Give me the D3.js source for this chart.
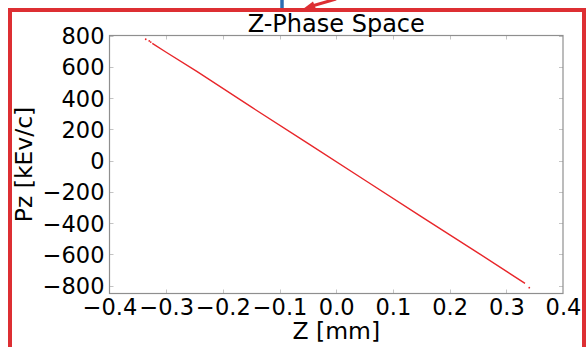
<!DOCTYPE html>
<html>
<head>
<meta charset="utf-8">
<script src="https://cdn.jsdelivr.net/npm/d3@7"></script>
<style>
  html, body { margin: 0; padding: 0; background: #fff; }
  svg { display: block; font-family: "DejaVu Sans", sans-serif; }
</style>
</head>
<body>
<svg id="chart" width="587" height="347"></svg>
<script>
// Longitudinal phase space: Z position [mm] vs Pz [keV/c]
const headZ  = [-0.3361, -0.3298, -0.3273];
const headPz = [776, 765, 758];

const bodyZ  = [-0.3245, -0.300, -0.246, -0.150, -0.050, 0.050, 0.150, 0.250, 0.333];
const bodyPz = [750, 693, 570, 343, 110, -124, -358, -590, -785];

const tailZ  = [0.3405];
const tailPz = [-813];

const xTicks = [-0.4, -0.3, -0.2, -0.1, 0.0, 0.1, 0.2, 0.3, 0.4];
const yTicks = [-800, -600, -400, -200, 0, 200, 400, 600, 800];
const xDomain = [-0.4, 0.4];
const yDomain = [-850, 800];

const svg = d3.select("#chart");
const plot = { left: 109.5, right: 563, top: 35.5, bottom: 293.5 };

const x = d3.scaleLinear().domain(xDomain).range([plot.left, plot.right]);
const y = d3.scaleLinear().domain(yDomain).range([plot.bottom, plot.top]);

// plot area
svg.append("rect")
  .attr("x", plot.left).attr("y", plot.top)
  .attr("width", plot.right - plot.left).attr("height", plot.bottom - plot.top)
  .attr("fill", "#fff");

// inward ticks on all four sides
const tickLen = 4;
const tickColor = "#c4c4c4";
const tg = svg.append("g").attr("stroke", tickColor).attr("stroke-width", 1);
xTicks.slice(1, -1).forEach(t => {
  const px = Math.round(x(t)) + 0.5;
  tg.append("line").attr("x1", px).attr("x2", px).attr("y1", plot.bottom).attr("y2", plot.bottom - tickLen);
  tg.append("line").attr("x1", px).attr("x2", px).attr("y1", plot.top).attr("y2", plot.top + tickLen);
});
yTicks.forEach(t => {
  const py = Math.round(y(t)) + 0.5;
  tg.append("line").attr("x1", plot.left).attr("x2", plot.left + tickLen).attr("y1", py).attr("y2", py);
  tg.append("line").attr("x1", plot.right).attr("x2", plot.right - tickLen).attr("y1", py).attr("y2", py);
});

// data
const lineColor = "#e8262a";
const body = bodyZ.map((z, i) => [z, bodyPz[i]]);
svg.append("path")
  .datum(body)
  .attr("fill", "none")
  .attr("stroke", lineColor)
  .attr("stroke-width", 1.4)
  .attr("d", d3.line().x(d => x(d[0])).y(d => y(d[1])));

const dots = headZ.map((z, i) => [z, headPz[i]]).concat(tailZ.map((z, i) => [z, tailPz[i]]));
svg.append("g").selectAll("circle").data(dots).enter().append("circle")
  .attr("cx", d => x(d[0])).attr("cy", d => y(d[1]))
  .attr("r", 0.9).attr("fill", lineColor);

// frame
svg.append("rect")
  .attr("x", plot.left).attr("y", plot.top)
  .attr("width", plot.right - plot.left).attr("height", plot.bottom - plot.top)
  .attr("fill", "none").attr("stroke", "#8f8f8f").attr("stroke-width", 1.2);

// axes labels via d3 axes (tick lines hidden, text only)
const fmtX = d => (d < 0 ? "\u2212" : "") + Math.abs(d).toFixed(1);
const fmtY = d => (d < 0 ? "\u2212" : "") + Math.abs(d);

const xAxis = svg.append("g")
  .attr("transform", `translate(0,${plot.bottom})`)
  .call(d3.axisBottom(x).tickValues(xTicks).tickFormat(fmtX).tickSize(0).tickPadding(21));
xAxis.select(".domain").remove();
xAxis.selectAll("text").attr("font-size", 22.5).attr("fill", "#000")
  .attr("font-family", "DejaVu Sans").attr("dy", null).attr("y", 21.5);

const yAxis = svg.append("g")
  .attr("transform", `translate(${plot.left},0)`)
  .call(d3.axisLeft(y).tickValues(yTicks).tickFormat(fmtY).tickSize(0).tickPadding(5));
yAxis.select(".domain").remove();
yAxis.selectAll("text").attr("font-size", 22.5).attr("fill", "#000")
  .attr("font-family", "DejaVu Sans").attr("dy", "0.36em");

// titles
svg.append("text")
  .attr("x", (plot.left + plot.right) / 2).attr("y", 32)
  .attr("text-anchor", "middle").attr("font-size", 24).attr("fill", "#000")
  .text("Z-Phase Space");

svg.append("text")
  .attr("x", (plot.left + plot.right) / 2).attr("y", 339)
  .attr("text-anchor", "middle").attr("font-size", 23.5).attr("fill", "#000")
  .text("Z [mm]");

svg.append("text")
  .attr("transform", `translate(32,${(plot.top + plot.bottom) / 2}) rotate(-90)`)
  .attr("text-anchor", "middle").attr("font-size", 23.5).attr("fill", "#000")
  .text("Pz [kEv/c]");

// callout frame, connector and arrow
const calloutRed = "#dd2f33";
svg.append("path")
  .attr("d", "M10,347 L10,10 L584,10 L584,347")
  .attr("fill", "none").attr("stroke", calloutRed).attr("stroke-width", 4);

svg.append("line")
  .attr("x1", 282).attr("x2", 282).attr("y1", 0).attr("y2", 8)
  .attr("stroke", "#2b6cb3").attr("stroke-width", 3.5);

svg.append("line")
  .attr("x1", 336).attr("y1", -1).attr("x2", 312).attr("y2", 6)
  .attr("stroke", calloutRed).attr("stroke-width", 3);
svg.append("path")
  .attr("d", "M303,9 L313,1.5 L316,9 Z")
  .attr("fill", calloutRed);
</script>
</body>
</html>
